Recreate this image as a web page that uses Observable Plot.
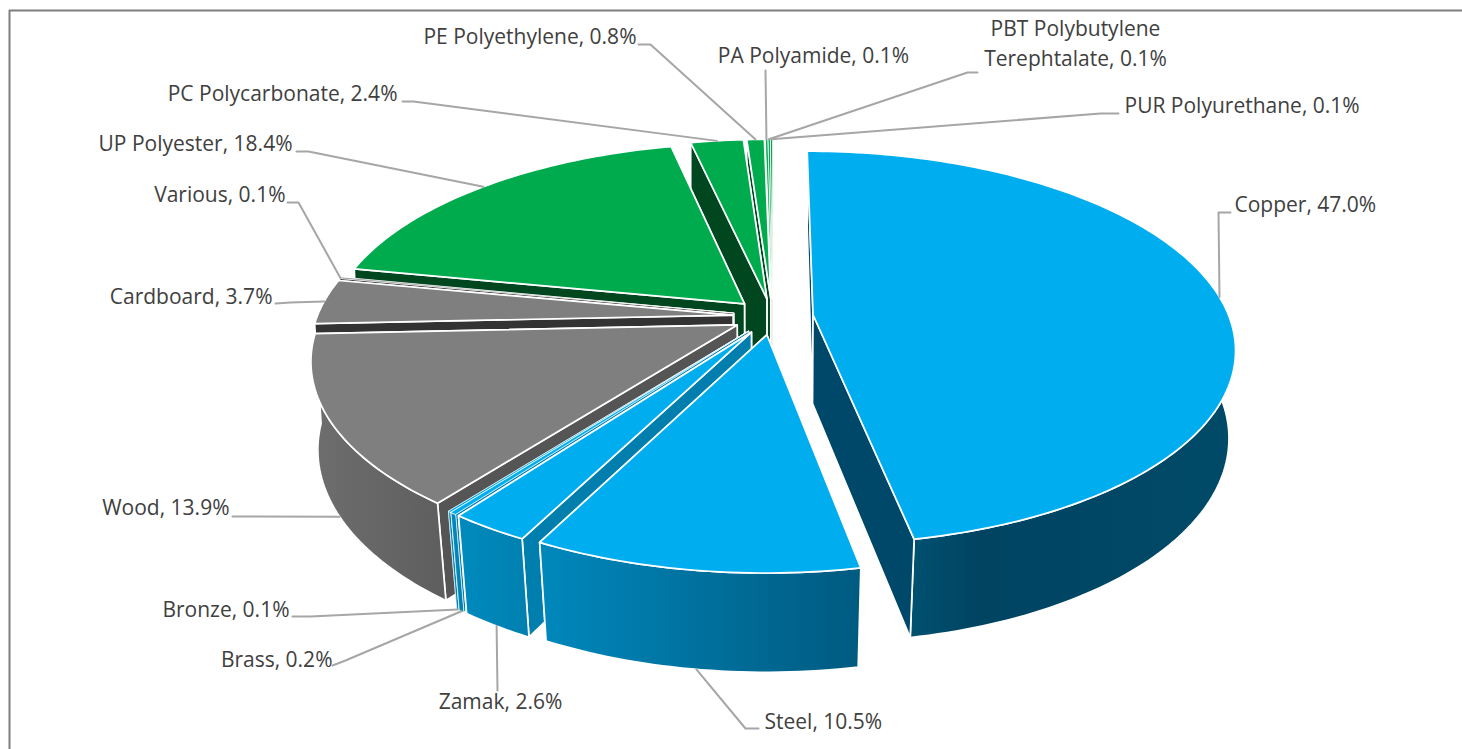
<!DOCTYPE html>
<html>
<head>
<meta charset="utf-8">
<script src="https://cdn.jsdelivr.net/npm/d3@7"></script>
<script src="https://cdn.jsdelivr.net/npm/@observablehq/plot@0.6"></script>
<style>
html,body{margin:0;padding:0;background:#fff;}
svg{display:block;}
</style>
</head>
<body>
<div id="chart"></div>
<script>
// ---- data: clockwise from twelve o'clock ----
const materials = ["Copper","Steel","Zamak","Brass","Bronze","Wood","Cardboard","Various","UP Polyester","PC Polycarbonate","PE Polyethylene","PA Polyamide","PBT Polybutylene\nTerephtalate","PUR Polyurethane"];
const shares = [47.0,10.5,2.6,0.2,0.1,13.9,3.7,0.1,18.4,2.4,0.8,0.1,0.1,0.1];

// ---- styling by slice ----
const topColors = ["#00AEEF","#00AEEF","#00AEEF","#00AEEF","#00AEEF","#7F7F7F","#7F7F7F","#7F7F7F","#00AB4E","#00AB4E","#00AB4E","#00AB4E","#00AB4E","#00AB4E"];
const radialColors = ["#00486A","#007BA6","#007FAE","#007FAE","#007FAE","#555555","#333333","#333333","#00461F","#00461F","#00461F","#00461F","#00461F","#00461F"];
const wallStops = [
  [[0,"#00506F"],[0.25,"#00506F"],[0.4,"#004462"],[1,"#004A68"]],
  [[0,"#0088BC"],[1,"#005A80"]],
  [[0,"#008ABE"],[1,"#0080B0"]],
  [[0,"#008ABE"],[1,"#0080B0"]],
  [[0,"#008ABE"],[1,"#0080B0"]],
  [[0,"#6E6E6E"],[1,"#5E5E5E"]],
  [[0,"#666666"],[1,"#666666"]],
  [[0,"#666666"],[1,"#666666"]],
  [[0,"#00461F"],[1,"#00461F"]],
  [[0,"#00461F"],[1,"#00461F"]],
  [[0,"#00461F"],[1,"#00461F"]],
  [[0,"#00461F"],[1,"#00461F"]],
  [[0,"#00461F"],[1,"#00461F"]],
  [[0,"#00461F"],[1,"#00461F"]]
];

// ---- label placement (text position and anchor, then leader elbow points) ----
const labelLayout = [
  {x:1234,y:202,anchor:"start", elbow:[[1230,212],[1218,212]]},
  {x:764, y:719,anchor:"start", elbow:[[758,728],[745,728]]},
  {x:500, y:699,anchor:"middle",elbow:[[497,690]]},
  {x:332, y:657,anchor:"end",   elbow:[[332,665],[345,660]]},
  {x:289, y:607,anchor:"end",   elbow:[[292,616],[310,616]]},
  {x:229, y:505,anchor:"end",   elbow:[[232,516]]},
  {x:272, y:294,anchor:"end",   elbow:[[275,303],[290,302]]},
  {x:285, y:192,anchor:"end",   elbow:[[287,202],[298,202]]},
  {x:292, y:141,anchor:"end",   elbow:[[296,151],[308,151]]},
  {x:397, y:91, anchor:"end",   elbow:[[402,101],[413,101]]},
  {x:636, y:34, anchor:"end",   elbow:[[638,44],[650,44]]},
  {x:813, y:53, anchor:"middle",elbow:[[765,70]]},
  {x:1075,y:41, anchor:"middle",elbow:[[977,72],[967,72]]},
  {x:1124,y:103,anchor:"start", elbow:[[1118,113],[1100,113]]}
];

// ---- perspective model of the 3-D pie ----
const view = {cx:772, cy:316, A:416, B:191.5, H:90, p:0.1675, q0:0.012, q1:0.012, explode:0.095};
const explodeBy = materials.map((m, i) => i === 0 ? 0.098 : view.explode);
function project(X, Y, lower) {
  const w = 1 + view.p * Y + (view.q0 - view.q1 * Y) * lower;
  return {x: view.cx + view.A * X / w, y: view.cy + (-view.B * Y + view.H * lower) / w};
}
const total = d3.sum(shares);
let cum = 0;
const slices = shares.map((v, i) => {
  const a0 = cum / total * 2 * Math.PI; cum += v;
  const a1 = cum / total * 2 * Math.PI;
  const mid = (a0 + a1) / 2;
  return {i, a0, a1, mid, ox: explodeBy[i] * Math.sin(mid), oy: explodeBy[i] * Math.cos(mid)};
});
const rim = (s, a, lower) => project(s.ox + Math.sin(a), s.oy + Math.cos(a), lower);
const apex = (s, lower) => project(s.ox, s.oy, lower);
function arc(s, lower) {
  const n = Math.max(2, Math.ceil((s.a1 - s.a0) / 0.02));
  return d3.range(n + 1).map(k => rim(s, s.a0 + (s.a1 - s.a0) * k / n, lower));
}

// ---- faces, painted far to near ----
const faceStyle = (s) => ({stroke:"#fff", strokeWidth: shares[s.i] < 0.5 ? 0.7 : 1.7, strokeLinejoin:"round", curve:"linear-closed", x:"x", y:"y"});
const marks = [];
const order = slices.slice().sort((a, b) => Math.cos(b.mid) - Math.cos(a.mid));
for (const s of order) {
  const white = faceStyle(s);
  const outer = Plot.line([...arc(s,0), ...arc(s,1).reverse()], {...white, fill:`url(#wall${s.i})`});
  const walls = Math.sin(s.mid) < 0 ? [s.a1, s.a0] : [s.a0, s.a1];
  const radial = walls.map(a => Plot.line([apex(s,0), rim(s,a,0), rim(s,a,1), apex(s,1)], {...white, fill: radialColors[s.i]}));
  // the rim wall of a far slice sits behind its cut faces; a near slice's sits in front
  if (Math.cos(s.mid) > 0) marks.push(outer, ...radial);
  else marks.push(...radial, outer);
  marks.push(Plot.line([apex(s,0), ...arc(s,0)], {...white, fill: topColors[s.i]}));
}

// ---- leaders and labels ----
const label = (i) => `${materials[i]}, ${shares[i].toFixed(1)}%`;
slices.forEach(s => {
  const L = labelLayout[s.i];
  const front = Math.cos(s.mid) < -0.3;
  const pts = [...L.elbow.map(([x, y]) => ({x, y})), rim(s, s.mid, front ? 1 : 0)];
  marks.push(Plot.line(pts, {x:"x", y:"y", stroke:"#A6A6A6", strokeWidth:2}));
});
for (const anchor of ["start","middle","end"]) {
  const sub = slices.filter(s => labelLayout[s.i].anchor === anchor);
  marks.push(Plot.text(sub, {
    x: s => labelLayout[s.i].x,
    y: s => labelLayout[s.i].y,
    text: s => label(s.i),
    textAnchor: anchor,
    fill: "#404040",
    fontSize: 21,
    lineHeight: 1.4,
    fontFamily: "'Open Sans'"
  }));
}

// ---- chart border ----
marks.push(Plot.ruleY([10], {x1:9, x2:1462, stroke:"#7F7F7F", strokeWidth:2}));
marks.push(Plot.ruleX([9], {y1:10, y2:749, stroke:"#7F7F7F", strokeWidth:2}));

const chart = Plot.plot({
  width:1462, height:749, margin:0,
  x:{domain:[0,1462], range:[0,1462], axis:null},
  y:{domain:[0,749], range:[0,749], axis:null},
  style:{background:"#fff"},
  marks
});

// wall shading gradients
const defs = d3.select(chart).insert("defs", ":first-child");
slices.forEach(s => {
  const g = defs.append("linearGradient").attr("id", `wall${s.i}`);
  for (const [offset, color] of wallStops[s.i]) {
    g.append("stop").attr("offset", offset).attr("stop-color", color);
  }
});
document.getElementById("chart").append(chart);
</script>
</body>
</html>
